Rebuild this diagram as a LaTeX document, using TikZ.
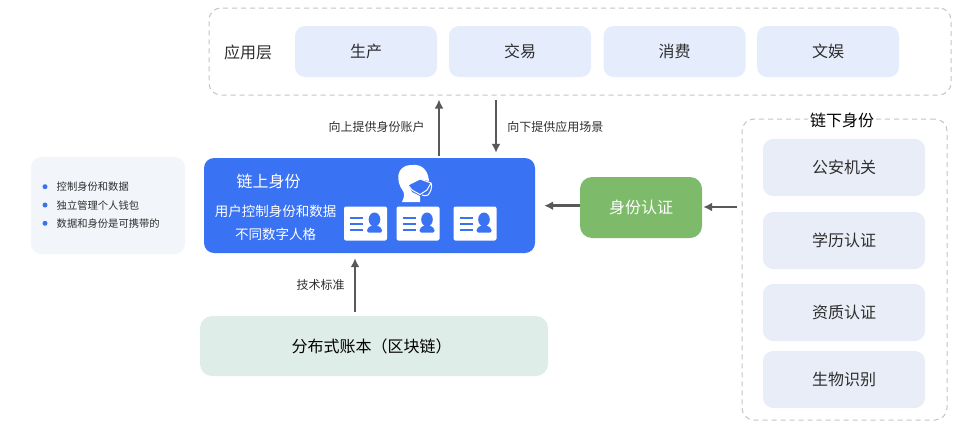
\documentclass[tikz,border=0pt]{standalone}
\usepackage{fontspec}
\usetikzlibrary{arrows.meta}
\setmainfont{Noto Sans CJK SC}
\definecolor{darktext}{HTML}{2E2E2E}
\definecolor{arrowgray}{HTML}{595959}
\definecolor{dashgray}{HTML}{C4C4C4}
\definecolor{appblue}{HTML}{E5ECFC}
\definecolor{offblue}{HTML}{E9EDF7}
\definecolor{noteblue}{HTML}{F2F5FA}
\definecolor{chainblue}{HTML}{3A72F4}
\definecolor{authgreen}{HTML}{7DBA6A}
\definecolor{ledgergreen}{HTML}{DFEDE8}
\tikzset{
  zone/.style={draw=dashgray,line width=1pt,dash pattern=on 5pt off 4pt,rounded corners=12pt,inner sep=0pt},
  box/.style={rectangle,rounded corners=10pt,inner sep=0pt,text=darktext,font=\fontsize{16}{16}\selectfont},
  appbox/.style={box,fill=appblue,minimum width=142pt,minimum height=51pt},
  offbox/.style={box,fill=offblue,minimum width=162pt,minimum height=57pt},
  flow/.style={-{Latex[length=9pt,width=9pt]},draw=arrowgray,line width=2.8pt},
  small/.style={text=darktext,inner sep=0pt,font=\fontsize{12}{12}\selectfont},
  note/.style={text=darktext,inner sep=0pt,anchor=west,font=\fontsize{10.3}{10.3}\selectfont},
  dot/.style={circle,fill=chainblue,inner sep=0pt,minimum size=5pt},
  wtext/.style={text=white,inner sep=0pt},
  idcard/.pic={
    \fill[white,rounded corners=2pt] (0,0) rectangle (43,34);
    \draw[chainblue,line width=2pt] (6,11) -- (19,11) (6,17) -- (19,17) (6,23) -- (19,23);
    \fill[chainblue] (30.5,13) ellipse (5.8 and 7);
    \fill[chainblue,rounded corners=1.5pt] (23,26) -- (23,22.5) -- (27,19) -- (34,19) -- (38,22.5) -- (38,26) -- cycle;
  }
}
\begin{document}
\begin{tikzpicture}[x=1pt,y=-1pt]
\useasboundingbox (0,0) rectangle (964,434);
% application layer
\node[zone,minimum width=742pt,minimum height=87pt] (App) at (580,51.5) {};
\node[small,font=\fontsize{16}{16}\selectfont] (AppLabel) at (248,52) {应用层};
\node[appbox] (Prod) at (366,51.5) {生产};
\node[appbox] (Trade) at (520,51.5) {交易};
\node[appbox] (Cons) at (674.5,51.5) {消费};
\node[appbox] (Fun) at (828,51.5) {文娱};
% notes
\node[rectangle,rounded corners=10pt,fill=noteblue,minimum width=154pt,minimum height=97pt] (Notes) at (108,205.5) {};
\node[dot] (D1) at (45,186.7) {};
\node[dot] (D2) at (45,205) {};
\node[dot] (D3) at (45,223.3) {};
\node[note] (N1) at (56.5,187) {控制身份和数据};
\node[note] (N2) at (56.5,205.5) {独立管理个人钱包};
\node[note] (N3) at (56.5,224) {数据和身份是可携带的};
% on-chain identity
\node[rectangle,rounded corners=10pt,fill=chainblue,minimum width=331pt,minimum height=95pt] (Chain) at (369.5,205.5) {};
\node[wtext,font=\fontsize{16}{16}\selectfont] (ChainTitle) at (268.5,181.5) {链上身份};
\node[wtext,font=\fontsize{13.5}{13.5}\selectfont] (ChainA) at (275.5,211) {用户控制身份和数据};
\node[wtext,font=\fontsize{13.5}{13.5}\selectfont] (ChainB) at (275.5,234) {不同数字人格};
\pic at (344,206.5) {idcard};
\pic at (396.5,206.5) {idcard};
\pic at (453.5,206.5) {idcard};
\fill[white] (402,202) .. controls (405,196) and (404,193) .. (403,191) .. controls (396,182) and (395,165) .. (412,165) .. controls (423,164) and (428,171) .. (429,181) -- (420,179) -- (408,185) -- (412,192) -- (420,196) -- (420,202) -- cycle;
\draw[white,line width=1pt,line join=round] (408,185) -- (420,179) -- (431,183) -- (427,190) -- (420,194.5) -- (412,190) -- cycle;
\draw[white,line width=1pt] (431,183) .. controls (433,187) and (430,193) .. (428,195) .. controls (426,196) and (424,196) .. (422,195);
% authentication and ledger
\node[box,fill=authgreen,rounded corners=12pt,text=white,minimum width=122pt,minimum height=61pt] (Auth) at (641,207.5) {身份认证};
\node[box,fill=ledgergreen,rounded corners=12pt,minimum width=348pt,minimum height=60pt] (Ledger) at (374,346) {};
\node[box,text=black] (LedgerText) at (371.5,346) {分布式账本（区块链）};
% off-chain identity
\node[zone,minimum width=205pt,minimum height=301pt] (Off) at (844.5,269.5) {};
\node[box,fill=white,text=black,inner xsep=2pt] (OffLabel) at (842,120) {链下身份};
\node[offbox] (Police) at (844,167.5) {公安机关};
\node[offbox] (Edu) at (844,240.5) {学历认证};
\node[offbox] (Qual) at (844,312.5) {资质认证};
\node[offbox] (Bio) at (844,379.5) {生物识别};
% connectors
\coordinate (UpX) at (439,0);
\coordinate (DownX) at (496,0);
\coordinate (StdX) at (355,0);
\draw[flow,shorten <=2pt,shorten >=4pt] (Chain.north -| UpX) to node[small,left=13pt,midway] (UpLabel) {向上提供身份账户} (App.south -| UpX);
\draw[flow,shorten <=4pt,shorten >=5pt] (App.south -| DownX) to node[small,right=10pt,midway] (DownLabel) {向下提供应用场景} (Chain.north -| DownX);
\draw[flow,shorten <=4pt,shorten >=5pt] (Ledger.north -| StdX) to node[small,left=9pt,midway] (StdLabel) {技术标准} (Chain.south -| StdX);
\draw[flow,shorten >=9pt] (Auth.west |- 0,205.7) -- (Chain.east |- 0,205.7);
\draw[flow,shorten <=4.5pt,shorten >=1pt] (Off.west |- 0,207) -- (Auth.east |- 0,207);
\end{tikzpicture}
\end{document}
